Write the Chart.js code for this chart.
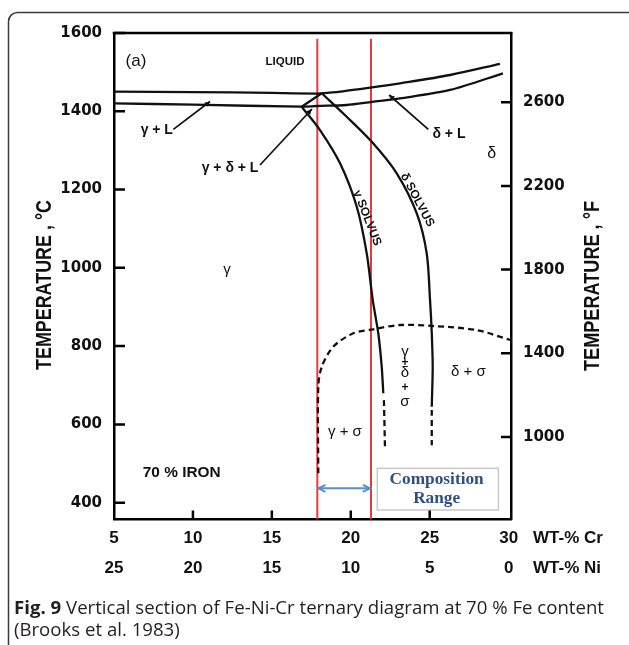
<!DOCTYPE html>
<html>
<head>
<meta charset="utf-8">
<script src="https://cdn.jsdelivr.net/npm/chart.js@4.4.1/dist/chart.umd.min.js"></script>
<style>
  html, body { margin: 0; padding: 0; background: #fff; }
  #wrap { width: 629px; height: 645px; }
</style>
</head>
<body>
<div id="wrap"><canvas id="phase" width="629" height="645"></canvas></div>
<script>
// axis ranges and tick values
const crMin = 5, crMax = 30.15;
const tMin = 357, tMax = 1600;
const fMin = 605.6, fMax = 2931;
const crTicks = [5, 10, 15, 20, 25, 30];
const celsiusTicks = [400, 600, 800, 1000, 1200, 1400, 1600];
const fahrenheitTicks = [1000, 1400, 1800, 2200, 2600];

// boundaries (wt-% Cr, temperature °C)
const liquidusUpperCr = [5, 10, 15, 17.84, 18.16, 19.5, 21.34, 23.12, 26.29, 29.45];
const liquidusUpperT = [1450, 1449, 1447, 1445, 1446, 1451, 1461, 1471.5, 1492.7, 1521];
const liquidusLowerCr = [5, 10, 16.89, 17.84, 19.74, 21.34, 23.12, 26.29, 29.64];
const liquidusLowerT = [1420, 1417, 1411.7, 1413.5, 1416, 1424, 1433, 1454.4, 1497];
const threePhaseCr = [16.89, 18.16];
const threePhaseT = [1411.7, 1446];
const gammaSolvusCr = [16.89, 18.05, 19.32, 20.38, 21.01, 21.39, 21.74, 21.96, 22.06];
const gammaSolvusT = [1411.7, 1352, 1267, 1156, 1037, 918, 833.5, 747, 679.5];
const gammaSolvusDashCr = [22.1, 22.17];
const gammaSolvusDashT = [662, 535];
const deltaSolvusCr = [18.16, 19.74, 21.33, 22.91, 24.18, 24.81, 25.02, 25.13, 25.19, 25.13];
const deltaSolvusT = [1446, 1386, 1322, 1241.5, 1139, 1037, 918, 833.5, 747, 645];
const deltaSolvusDashCr = [25.13, 25.13];
const deltaSolvusDashT = [637, 547];
const sigmaCr = [17.94, 17.94, 18.16, 18.89, 20.16, 21.43, 23.12, 25.21, 27.98, 30.09];
const sigmaT = [475, 696, 747, 798.5, 832.7, 843, 854, 851.4, 841, 815.6];

// composition range limits (red lines)
const rangeCr = [17.88, 21.28];
const rangeTop = 1585;

function pts(xs, ys) {
    return xs.map((x, i) => ({ x: x, y: ys[i] }));
}

function curve(xs, ys, dashed) {
    return {
        data: pts(xs, ys),
        showLine: true,
        borderColor: "#111",
        borderWidth: 2.3,
        borderDash: dashed ? [6, 4] : [],
        pointRadius: 0,
        tension: 0.3,
        fill: false
    };
}

function redLine(cr) {
    return {
        data: pts([cr, cr], [rangeTop, tMin]),
        showLine: true,
        borderColor: "#e63b3b",
        borderWidth: 2,
        pointRadius: 0,
        tension: 0
    };
}

// region labels, placed in data coordinates
const regionLabels = [
    { text: "(a)", cr: 6.39, t: 1528.5, font: '17px "Liberation Sans"' },
    { text: "LIQUID", cr: 15.83, t: 1526, font: 'bold 10px "Liberation Sans"', sx: 1.15 },
    { text: "γ + L", cr: 7.71, t: 1352, font: 'bold 14px "Liberation Sans"' },
    { text: "γ + δ + L", cr: 12.35, t: 1254.3, font: 'bold 14px "Liberation Sans"' },
    { text: "δ + L", cr: 26.22, t: 1341, font: 'bold 14px "Liberation Sans"' },
    { text: "δ", cr: 28.93, t: 1292.6, font: '16px "Liberation Sans"' },
    { text: "γ SOLVUS", cr: 21.03, t: 1127.3, font: 'bold 12px "Liberation Sans"', rot: 68.5 },
    { text: "δ SOLVUS", cr: 24.21, t: 1173.3, font: 'bold 12px "Liberation Sans"', rot: 62 },
    { text: "γ", cr: 12.16, t: 994.5, font: '15px "Liberation Sans"' },
    { text: "γ", cr: 23.43, t: 785.7, font: '15px "Liberation Sans"' },
    { text: "+", cr: 23.43, t: 756.9, font: 'bold 12px "Liberation Sans"' },
    { text: "δ", cr: 23.43, t: 731.3, font: '15px "Liberation Sans"' },
    { text: "+", cr: 23.43, t: 694.3, font: 'bold 12px "Liberation Sans"' },
    { text: "σ", cr: 23.43, t: 657.2, font: '15px "Liberation Sans"' },
    { text: "δ + σ", cr: 27.45, t: 734.6, font: '15px "Liberation Sans"' },
    { text: "γ + σ", cr: 19.63, t: 581.3, font: '15px "Liberation Sans"' },
    { text: "70 % IRON", cr: 9.29, t: 475.1, font: 'bold 14px "Liberation Sans"', sx: 1.1 }
];

// leader arrows [fromCr, fromT, toCr, toT]
const leaders = [
    [8.76, 1353.9, 11.08, 1425],
    [14.25, 1262.7, 17.54, 1405.8],
    [24.91, 1354, 22.43, 1441.6]
];

function drawText(ctx, txt, x, y, font, opt) {
    opt = opt || {};
    ctx.save();
    ctx.translate(x, y);
    if (opt.rot) ctx.rotate(opt.rot * Math.PI / 180);
    ctx.scale(opt.sx || 1, opt.sy || 1);
    ctx.font = font;
    ctx.fillStyle = opt.color || "#111";
    ctx.textAlign = opt.align || "center";
    ctx.textBaseline = opt.baseline || "middle";
    ctx.fillText(txt, 0, 0);
    ctx.restore();
}

function arrowHead(ctx, x0, y0, x1, y1, size, open) {
    const a = Math.atan2(y1 - y0, x1 - x0);
    ctx.beginPath();
    ctx.moveTo(x1 - size * Math.cos(a - 0.45), y1 - size * Math.sin(a - 0.45));
    ctx.lineTo(x1, y1);
    ctx.lineTo(x1 - size * Math.cos(a + 0.45), y1 - size * Math.sin(a + 0.45));
    if (open) {
        ctx.stroke();
    } else {
        ctx.closePath();
        ctx.fill();
    }
}

function drawAxisTitle(ctx, txt, x, y) {
    ctx.save();
    ctx.font = 'bold 18px "Liberation Sans"';
    const w = ctx.measureText(txt).width;
    ctx.restore();
    drawText(ctx, txt, x, y, 'bold 18px "Liberation Sans"', { rot: -90, sx: 170 / w, sy: 1.2 });
}

const decor = {
    id: "decor",
    beforeDraw(chart) {
        const ctx = chart.ctx;
        ctx.save();
        ctx.fillStyle = "#fff";
        ctx.fillRect(0, 0, chart.width, chart.height);
        ctx.strokeStyle = "#3a3a3a";
        ctx.lineWidth = 1.5;
        ctx.beginPath();
        ctx.roundRect(8.5, 12.5, 680, 680, 9);
        ctx.stroke();
        ctx.restore();
    },
    afterDatasetsDraw(chart) {
        const ctx = chart.ctx;
        const xs = chart.scales.x, ys = chart.scales.y;

        // composition range box
        ctx.save();
        const bx0 = xs.getPixelForValue(21.68), bx1 = xs.getPixelForValue(29.35);
        const by0 = ys.getPixelForValue(487.8), by1 = ys.getPixelForValue(381.3);
        ctx.fillStyle = "#fff";
        ctx.fillRect(bx0, by0, bx1 - bx0, by1 - by0);
        ctx.strokeStyle = "#c9c9c9";
        ctx.lineWidth = 1.5;
        ctx.strokeRect(bx0, by0, bx1 - bx0, by1 - by0);
        ctx.restore();
        drawText(ctx, "Composition", xs.getPixelForValue(25.44), ys.getPixelForValue(457.9),
            'bold 16px "Liberation Serif"', { color: "#2f4f80", sx: 1.08 });
        drawText(ctx, "Range", xs.getPixelForValue(25.44), ys.getPixelForValue(408.6),
            'bold 16px "Liberation Serif"', { color: "#2f4f80", sx: 1.08 });

        // double arrow between the red lines
        ctx.save();
        ctx.strokeStyle = "#5b8dd3";
        ctx.lineWidth = 2;
        const ay = ys.getPixelForValue(436.7);
        const ax0 = xs.getPixelForValue(17.94), ax1 = xs.getPixelForValue(21.22);
        ctx.beginPath();
        ctx.moveTo(ax0, ay);
        ctx.lineTo(ax1, ay);
        ctx.stroke();
        arrowHead(ctx, ax1, ay, ax0, ay, 8, true);
        arrowHead(ctx, ax0, ay, ax1, ay, 8, true);
        ctx.restore();

        // leader arrows
        ctx.save();
        ctx.strokeStyle = "#111";
        ctx.fillStyle = "#111";
        ctx.lineWidth = 1.7;
        leaders.forEach(l => {
            const x0 = xs.getPixelForValue(l[0]), y0 = ys.getPixelForValue(l[1]);
            const x1 = xs.getPixelForValue(l[2]), y1 = ys.getPixelForValue(l[3]);
            ctx.beginPath();
            ctx.moveTo(x0, y0);
            ctx.lineTo(x1, y1);
            ctx.stroke();
            arrowHead(ctx, x0, y0, x1, y1, 6, false);
        });
        ctx.restore();

        regionLabels.forEach(l => {
            drawText(ctx, l.text, xs.getPixelForValue(l.cr), ys.getPixelForValue(l.t), l.font,
                { rot: l.rot, sx: l.sx });
        });
    },
    afterDraw(chart) {
        const ctx = chart.ctx;
        const area = chart.chartArea;
        const xs = chart.scales.x, ys = chart.scales.y, y2 = chart.scales.y2;

        ctx.save();
        ctx.strokeStyle = "#000";
        ctx.lineWidth = 2.5;
        // top frame line
        ctx.beginPath();
        ctx.moveTo(area.left - 1.25, area.top);
        ctx.lineTo(area.right + 1.25, area.top);
        ctx.stroke();
        // inward tick marks
        ctx.beginPath();
        celsiusTicks.forEach(v => {
            const p = ys.getPixelForValue(v);
            ctx.moveTo(area.left, p);
            ctx.lineTo(area.left + 11, p);
        });
        fahrenheitTicks.forEach(v => {
            const p = y2.getPixelForValue(v);
            ctx.moveTo(area.right, p);
            ctx.lineTo(area.right - 10, p);
        });
        crTicks.slice(1, 5).forEach(v => {
            const p = xs.getPixelForValue(v);
            ctx.moveTo(p, area.bottom);
            ctx.lineTo(p, area.bottom - 9);
        });
        ctx.stroke();
        ctx.restore();

        // axis units next to the tick rows
        drawText(ctx, "WT-% Cr", 533, 538, 'bold 17px "Liberation Sans"', { align: "left" });
        drawText(ctx, "WT-% Ni", 533, 568, 'bold 17px "Liberation Sans"', { align: "left" });

        drawAxisTitle(ctx, "TEMPERATURE , °C", 45, 285);
        drawAxisTitle(ctx, "TEMPERATURE , °F", 593, 286);

        // caption
        const bold = "Fig. 9";
        const rest = " Vertical section of Fe-Ni-Cr ternary diagram at 70 % Fe content";
        ctx.save();
        ctx.font = 'bold 18px "Open Sans"';
        const wb = ctx.measureText(bold).width;
        ctx.font = '18px "Open Sans"';
        const wr = ctx.measureText(rest).width;
        const k = 590 / (wb + wr);
        ctx.fillStyle = "#231f20";
        ctx.textBaseline = "alphabetic";
        ctx.translate(14, 614);
        ctx.scale(k, 1);
        ctx.font = 'bold 18px "Open Sans"';
        ctx.fillText(bold, 0, 0);
        ctx.font = '18px "Open Sans"';
        ctx.fillText(rest, wb, 0);
        ctx.fillText("(Brooks et al. 1983)", 0, 22);
        ctx.restore();
    }
};

const ctx = document.getElementById("phase").getContext("2d");

new Chart(ctx, {
    type: "scatter",
    data: {
        datasets: [
            curve(liquidusUpperCr, liquidusUpperT),
            curve(liquidusLowerCr, liquidusLowerT),
            curve(threePhaseCr, threePhaseT),
            curve(gammaSolvusCr, gammaSolvusT),
            curve(gammaSolvusDashCr, gammaSolvusDashT, true),
            curve(deltaSolvusCr, deltaSolvusT),
            curve(deltaSolvusDashCr, deltaSolvusDashT, true),
            curve(sigmaCr, sigmaT, true),
            redLine(rangeCr[0]),
            redLine(rangeCr[1])
        ]
    },
    options: {
        responsive: false,
        animation: false,
        layout: { padding: { top: 33, left: 0, right: 0, bottom: 0 } },
        plugins: {
            legend: { display: false },
            tooltip: { enabled: false }
        },
        scales: {
            x: {
                type: "linear",
                position: "bottom",
                min: crMin,
                max: crMax,
                afterBuildTicks: s => { s.ticks = crTicks.map(v => ({ value: v })); },
                afterFit: s => { s.height = 125.5; },
                grid: { display: false, drawTicks: false, tickLength: 0 },
                border: { display: true, color: "#000", width: 2.5 },
                ticks: {
                    autoSkip: false,
                    maxRotation: 0,
                    padding: 3.5,
                    color: "#111",
                    font: { family: "Liberation Sans", weight: "bold", size: 17, lineHeight: "30px" },
                    callback: v => [String(v), String(30 - v)]
                }
            },
            y: {
                type: "linear",
                position: "left",
                min: tMin,
                max: tMax,
                afterBuildTicks: s => { s.ticks = celsiusTicks.map(v => ({ value: v })); },
                afterFit: s => { s.width = 114; },
                grid: { display: false, drawTicks: false, tickLength: 0 },
                border: { display: true, color: "#000", width: 2.5 },
                ticks: {
                    padding: 12,
                    color: "#111",
                    font: { family: "DejaVu Sans", weight: "bold", size: 15 },
                    callback: v => String(v)
                }
            },
            y2: {
                type: "linear",
                position: "right",
                min: fMin,
                max: fMax,
                afterBuildTicks: s => { s.ticks = fahrenheitTicks.map(v => ({ value: v })); },
                afterFit: s => { s.width = 118; },
                grid: { display: false, drawTicks: false, tickLength: 0 },
                border: { display: true, color: "#000", width: 2.5 },
                ticks: {
                    padding: 12,
                    color: "#111",
                    font: { family: "DejaVu Sans", weight: "bold", size: 15 },
                    callback: v => String(v)
                }
            }
        }
    },
    plugins: [decor]
});
</script>
</body>
</html>
